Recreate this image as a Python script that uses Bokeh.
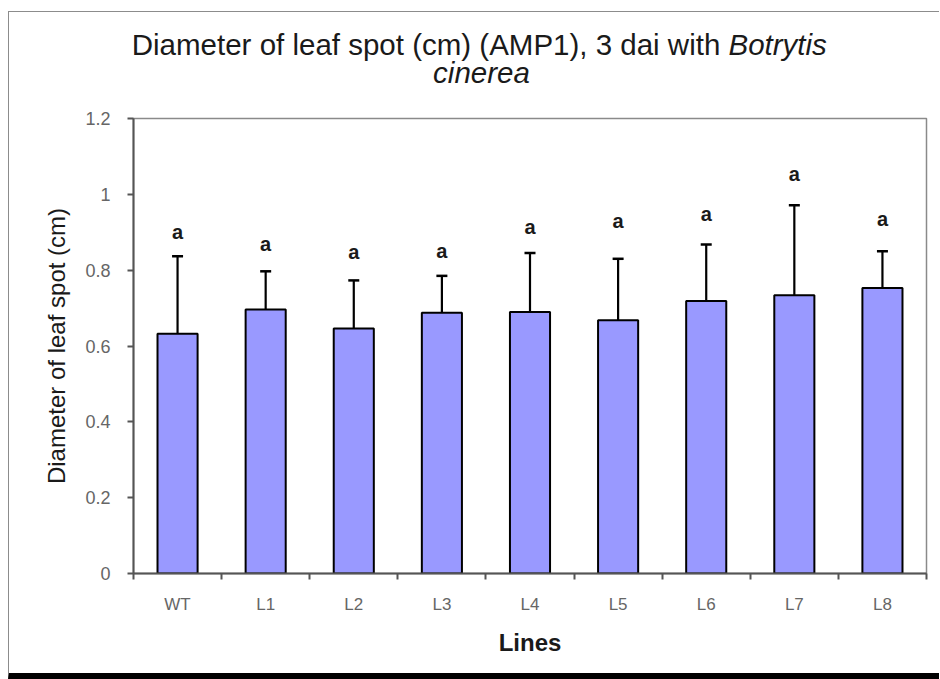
from bokeh.plotting import figure
from bokeh.layouts import column
from bokeh.models import FixedTicker, Whisker, TeeHead, ColumnDataSource, Range1d
from bokeh.core.properties import value
from bokeh.embed import file_html
from bokeh.resources import INLINE

# ---- data ----
categories = ["WT", "L1", "L2", "L3", "L4", "L5", "L6", "L7", "L8"]
means = [0.632, 0.696, 0.646, 0.688, 0.690, 0.668, 0.719, 0.734, 0.753]
errors = [0.205, 0.101, 0.127, 0.097, 0.155, 0.162, 0.149, 0.237, 0.097]
letters = ["a", "a", "a", "a", "a", "a", "a", "a", "a"]
letter_y = [0.900, 0.869, 0.848, 0.850, 0.914, 0.930, 0.949, 1.053, 0.934]
y_ticks = [0, 0.2, 0.4, 0.6, 0.8, 1.0, 1.2]
y_tick_labels = ["0", "0.2", "0.4", "0.6", "0.8", "1", "1.2"]
title_line1 = "Diameter of leaf spot (cm) (AMP1), 3 dai with "
title_italic1 = "Botrytis"
title_line2 = "cinerea"
x_title = "Lines"
y_title = "Diameter of leaf spot (cm)"

FONT = "Liberation Sans"
W = 930
BL, BR = 124, 13   # left / right borders of both figures (frames aligned)

# ---------- title strip ----------
tf = figure(width=W, height=90, output_backend="svg", toolbar_location=None,
            x_range=Range1d(133, 926), y_range=Range1d(90, 0),
            x_axis_type=None, y_axis_type=None, min_border=0,
            min_border_left=BL, min_border_right=BR)
tf.grid.visible = False
tf.outline_line_color = None
tf.text(x=[728], y=[32], text=[title_line1], text_align="right",
        text_baseline="alphabetic", text_font=value(FONT), text_font_size="29.5px",
        text_color="#1a1a1a")
tf.text(x=[728], y=[32], text=[title_italic1], text_align="left",
        text_baseline="alphabetic", text_font=value(FONT), text_font_size="29.5px",
        text_font_style="italic", text_color="#1a1a1a")
tf.text(x=[481], y=[60], text=[title_line2], text_align="center",
        text_baseline="alphabetic", text_font=value(FONT), text_font_size="29.5px",
        text_font_style="italic", text_color="#1a1a1a")

# ---------- main chart ----------
xs = [i + 0.5 for i in range(len(categories))]
uppers = [m + e for m, e in zip(means, errors)]
src = ColumnDataSource(dict(x=xs, top=means, upper=uppers, cat=categories,
                            ly=letter_y, lt=letters))

p = figure(width=W, height=571, output_backend="svg", toolbar_location=None,
           x_range=Range1d(0, len(categories)), y_range=Range1d(0, 1.2),
           min_border_left=BL, min_border_right=BR, min_border_top=16,
           min_border_bottom=100)
p.xgrid.visible = False
p.ygrid.visible = False
p.outline_line_color = "#8a8a8a"
p.outline_line_width = 1.5

p.vbar(x="x", top="top", bottom=0, width=0.455, source=src,
       fill_color="#9999ff", line_color="black", line_width=2)

p.add_layout(Whisker(base="x", lower="top", upper="upper", source=src,
                     line_color="black", line_width=2.2,
                     upper_head=TeeHead(size=11, line_color="black", line_width=2.5),
                     lower_head=None))

p.text(x="x", y="ly", text="lt", source=src, text_align="center",
       text_baseline="middle", text_font=value(FONT), text_font_style="bold",
       text_font_size="20px", text_color="#1a1a1a")

# y axis
p.yaxis.ticker = FixedTicker(ticks=y_ticks, minor_ticks=[])
p.yaxis.major_label_overrides = {t: l for t, l in zip(y_ticks, y_tick_labels)}
p.yaxis.axis_line_color = "#555555"
p.yaxis.axis_line_width = 2
p.yaxis.major_tick_line_color = "#555555"
p.yaxis.major_tick_line_width = 2
p.yaxis.major_tick_out = 6
p.yaxis.major_tick_in = 0
p.yaxis.minor_tick_line_color = None
p.yaxis.major_label_text_font = FONT
p.yaxis.major_label_text_font_size = "18px"
p.yaxis.major_label_text_color = "#666666"
p.yaxis.major_label_standoff = 17
p.yaxis.axis_label = y_title
p.yaxis.axis_label_text_font = FONT
p.yaxis.axis_label_text_font_size = "24px"
p.yaxis.axis_label_text_font_style = "normal"
p.yaxis.axis_label_text_color = "#1a1a1a"
p.yaxis.axis_label_standoff = 12

# x axis
boundaries = list(range(len(categories) + 1))
p.xaxis.ticker = FixedTicker(ticks=xs, minor_ticks=boundaries)
p.xaxis.major_label_overrides = {x: c for x, c in zip(xs, categories)}
p.xaxis.axis_line_color = "#555555"
p.xaxis.axis_line_width = 2
p.xaxis.major_tick_line_color = None
p.xaxis.major_tick_out = 0
p.xaxis.major_tick_in = 0
p.xaxis.minor_tick_line_color = "#555555"
p.xaxis.minor_tick_line_width = 2
p.xaxis.minor_tick_out = 6
p.xaxis.minor_tick_in = 0
p.xaxis.major_label_text_font = FONT
p.xaxis.major_label_text_font_size = "17px"
p.xaxis.major_label_text_color = "#666666"
p.xaxis.major_label_standoff = 15
p.xaxis.axis_label = x_title
p.xaxis.axis_label_text_font = FONT
p.xaxis.axis_label_text_font_size = "24px"
p.xaxis.axis_label_text_font_style = "bold"
p.xaxis.axis_label_text_color = "#1a1a1a"
p.xaxis.axis_label_standoff = 12

layout = column(tf, p, spacing=0)
layout.styles = {"margin-left": "8px", "margin-top": "11px",
                 "border-top": "1px solid #8c8c8c", "border-left": "1px solid #8c8c8c",
                 "border-bottom": "6px solid #000000"}

open("out.html", "w").write(file_html(layout, INLINE))
